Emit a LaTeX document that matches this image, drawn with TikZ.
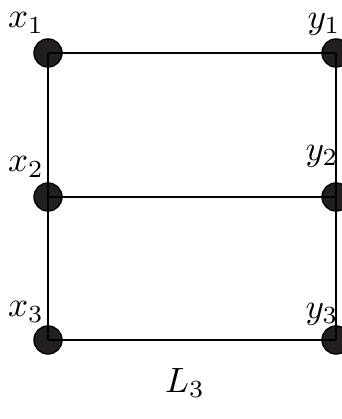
\documentclass[tikz,border=0pt]{standalone}
\usepackage{amsmath,amssymb}
\usetikzlibrary{positioning}
\definecolor{vertexdark}{HTML}{231F20}

\begin{document}
\begin{tikzpicture}[every node/.style={font=\normalsize}]
\useasboundingbox (0,0) rectangle (3.42,4.19);
\clip (0,0) rectangle (3.42,4.19);
\tikzset{vertex/.style={circle, draw=black, fill=vertexdark, minimum size=0.28cm, inner sep=0pt}}
\node[vertex] (x1) at (0.48,3.66) {};
\node[vertex] (x2) at (0.48,2.22) {};
\node[vertex] (x3) at (0.48,0.79) {};
\node[vertex] (y1) at (3.36,3.66) {};
\node[vertex] (y2) at (3.36,2.22) {};
\node[vertex] (y3) at (3.36,0.79) {};
\node (lx1) at (0.26,3.96) {$x_1$};
\node (lx2) at (0.26,2.52) {$x_2$};
\node (lx3) at (0.26,1.07) {$x_3$};
\node (ly1) at (3.24,3.95) {$y_1$};
\node (ly2) at (3.22,2.63) {$y_2$};
\node (ly3) at (3.22,1.05) {$y_3$};
\node (title) at (1.85,0.36) {$L_3$};
\draw[line width=0.4pt] (x1.center) -- (y1.center);
\draw[line width=0.4pt] (x2.center) -- (y2.center);
\draw[line width=0.4pt] (x3.center) -- (y3.center);
\draw[line width=0.4pt] (x1.center) -- (x3.center);
\draw[line width=0.4pt] (y1.center) -- (y3.center);
\end{tikzpicture}
\end{document}
